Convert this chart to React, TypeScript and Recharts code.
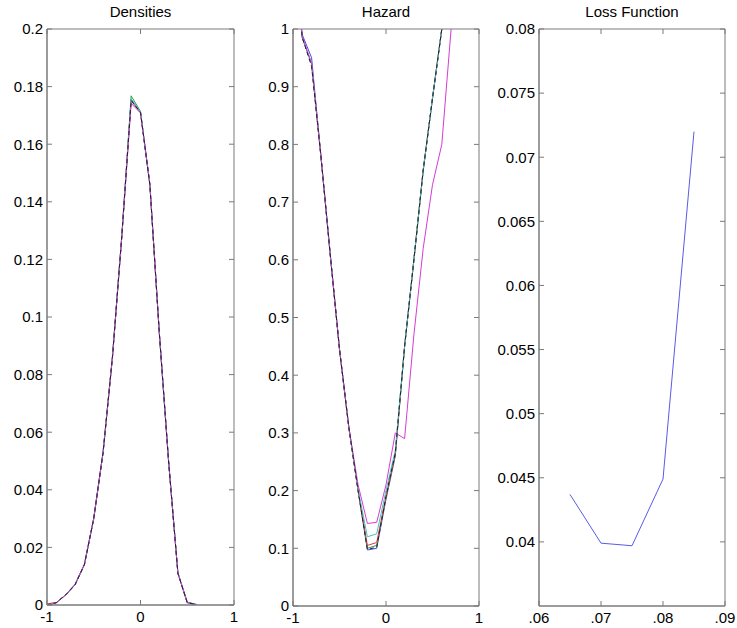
import { LineChart, Line, XAxis, YAxis } from 'recharts';

// Densities panel: kernel densities, one series per model (x grid -1 .. 0.6)
const densityX = [-1, -0.9, -0.8, -0.7, -0.6, -0.5, -0.4, -0.3, -0.2, -0.1, 0, 0.1, 0.2, 0.3, 0.4, 0.5, 0.6];
const densityBlue = [0, 0.0008, 0.0036, 0.0072, 0.0142, 0.0302, 0.0532, 0.0862, 0.1282, 0.1755, 0.1712, 0.1462, 0.0952, 0.0502, 0.0112, 0.001, 0.0002];
const densityGreen = [0, 0.0008, 0.0035, 0.007, 0.014, 0.03, 0.053, 0.086, 0.128, 0.1768, 0.1714, 0.146, 0.095, 0.05, 0.011, 0.0008, 0.0001];
const densityRed = [0.0004, 0.0009, 0.0035, 0.007, 0.014, 0.03, 0.053, 0.086, 0.128, 0.175, 0.171, 0.146, 0.095, 0.05, 0.011, 0.0008, 0.0001];
const densityCyan = [0, 0.0008, 0.0035, 0.007, 0.014, 0.03, 0.053, 0.086, 0.128, 0.1758, 0.1712, 0.146, 0.095, 0.05, 0.011, 0.0008, 0.0001];
const densityMagenta = [0, 0.0008, 0.0035, 0.0071, 0.0141, 0.0301, 0.0531, 0.0861, 0.1281, 0.1742, 0.1708, 0.1461, 0.0951, 0.0501, 0.0111, 0.0009, 0.0001];
const densityBlack = [0, 0.0008, 0.0035, 0.007, 0.014, 0.03, 0.053, 0.086, 0.128, 0.1752, 0.171, 0.146, 0.095, 0.05, 0.011, 0.0008, 0.0001];
const densityTicksY = [0, 0.02, 0.04, 0.06, 0.08, 0.1, 0.12, 0.14, 0.16, 0.18, 0.2];

// Hazard panel (x grid -1 .. 0.8, values above 1 are clipped by the axis)
const hazardX = [-1, -0.9, -0.8, -0.7, -0.6, -0.5, -0.4, -0.3, -0.2, -0.1, 0, 0.1, 0.2, 0.3, 0.4, 0.5, 0.6, 0.7, 0.8];
const hazardBlue = [1.14, 0.99, 0.95, 0.78, 0.61, 0.445, 0.31, 0.2, 0.097, 0.1, 0.185, 0.26, 0.45, 0.6, 0.755, 0.88, 1.0, 1.12, 1.25];
const hazardGreen = [1.14, 0.985, 0.94, 0.78, 0.61, 0.445, 0.31, 0.2, 0.1, 0.105, 0.188, 0.262, 0.45, 0.6, 0.755, 0.88, 1.0, 1.12, 1.25];
const hazardRed = [1.14, 0.985, 0.94, 0.78, 0.61, 0.445, 0.31, 0.2, 0.105, 0.11, 0.19, 0.265, 0.45, 0.6, 0.755, 0.88, 1.0, 1.12, 1.25];
const hazardCyan = [1.14, 0.985, 0.94, 0.78, 0.61, 0.445, 0.31, 0.202, 0.12, 0.125, 0.2, 0.27, 0.45, 0.6, 0.755, 0.88, 1.0, 1.12, 1.25];
const hazardMagenta = [1.14, 0.985, 0.94, 0.78, 0.61, 0.445, 0.31, 0.21, 0.143, 0.145, 0.21, 0.3, 0.29, 0.47, 0.62, 0.73, 0.8, 1.0, 1.2];
const hazardBlack = [1.14, 0.985, 0.935, 0.78, 0.61, 0.445, 0.31, 0.2, 0.098, 0.102, 0.19, 0.265, 0.45, 0.6, 0.755, 0.88, 1.0, 1.12, 1.25];
const hazardTicksY = [0, 0.1, 0.2, 0.3, 0.4, 0.5, 0.6, 0.7, 0.8, 0.9, 1];

// Loss function panel
const lossX = [0.065, 0.07, 0.075, 0.08, 0.085];
const lossY = [0.0437, 0.0399, 0.0397, 0.0449, 0.072];
const lossTicksX = [0.06, 0.07, 0.08, 0.09];
const lossTickLabels = ['.06', '.07', '.08', '.09'];
const lossTicksY = [0.04, 0.045, 0.05, 0.055, 0.06, 0.065, 0.07, 0.075, 0.08];

const unitTicksX = [-1, 0, 1];

const FONT = '"Liberation Sans", Arial, sans-serif';
const AXIS = '#7a7a7a';
const tickStyle = { fontSize: 15, fill: '#000', fontFamily: FONT };

const toPoints = (xs: number[], ys: number[]) => xs.map((x, i) => ({ x, y: ys[i] }));

const COLORS = {
  blue: '#4646ee',
  green: '#3c963c',
  red: '#e23c3c',
  cyan: '#3cc6c6',
  magenta: '#d43cd4',
  black: '#222222',
};

const NoLabel = () => <g />;

function Title({ text, left, width }: { text: string; left: number; width: number }) {
  return (
    <div
      style={{
        position: 'absolute',
        left,
        top: 3,
        width,
        textAlign: 'center',
        fontFamily: FONT,
        fontSize: 15,
        color: '#000',
      }}
    >
      {text}
    </div>
  );
}

function Ghost({ id, xId, yId, xs, ys }: { id: string; xId: string; yId: string; xs: number[]; ys: number[] }) {
  return (
    <Line
      key={id}
      xAxisId={xId}
      yAxisId={yId}
      data={toPoints(xs, ys)}
      dataKey="y"
      stroke="none"
      dot={false}
      activeDot={false}
      isAnimationActive={false}
    />
  );
}

// box axes: labels on left/bottom, inward tick marks on all four sides (mirrored axes)
function BoxAxes({
  xDomain,
  yDomain,
  xTicks,
  yTicks,
  yWidth,
  xHeight,
  xFormatter,
  xs,
  ys,
}: {
  xDomain: number[];
  yDomain: number[];
  xTicks: number[];
  yTicks: number[];
  yWidth: number;
  xHeight: number;
  xFormatter?: (v: number) => string;
  xs: number[];
  ys: number[];
}) {
  const common = { type: 'number' as const, dataKey: 'x', allowDataOverflow: true, interval: 0 as const };
  const commonY = { type: 'number' as const, dataKey: 'y', allowDataOverflow: true, interval: 0 as const };
  const tickLine = { stroke: AXIS };
  return [
    <XAxis
      key="xb"
      xAxisId="b"
      {...common}
      domain={xDomain}
      ticks={xTicks}
      stroke={AXIS}
      tick={tickStyle}
      tickLine={false}
      tickSize={0}
      tickMargin={6}
      height={xHeight}
      tickFormatter={xFormatter}
    />,
    <YAxis
      key="yl"
      yAxisId="l"
      {...commonY}
      domain={yDomain}
      ticks={yTicks}
      stroke={AXIS}
      tick={tickStyle}
      tickLine={false}
      tickSize={0}
      tickMargin={4}
      width={yWidth}
    />,
    <XAxis key="xbm" xAxisId="bm" {...common} domain={xDomain} ticks={xTicks} stroke={AXIS} mirror tick={NoLabel} tickLine={tickLine} tickSize={5} height={5} />,
    <XAxis key="xt" xAxisId="t" orientation="top" {...common} domain={xDomain} ticks={xTicks} stroke={AXIS} mirror tick={NoLabel} tickLine={tickLine} tickSize={5} height={5} />,
    <YAxis key="ylm" yAxisId="lm" {...commonY} domain={yDomain} ticks={yTicks} stroke={AXIS} mirror tick={NoLabel} tickLine={tickLine} tickSize={5} width={5} />,
    <YAxis key="yr" yAxisId="r" orientation="right" {...commonY} domain={yDomain} ticks={yTicks} stroke={AXIS} mirror tick={NoLabel} tickLine={tickLine} tickSize={5} width={5} />,
    Ghost({ id: 'g1', xId: 't', yId: 'r', xs, ys }),
    Ghost({ id: 'g2', xId: 'bm', yId: 'lm', xs, ys }),
  ];
}

function Series({ xs, ys, color, dashed }: { xs: number[]; ys: number[]; color: string; dashed?: boolean }) {
  return (
    <Line
      xAxisId="b"
      yAxisId="l"
      data={toPoints(xs, ys)}
      dataKey="y"
      stroke={color}
      strokeWidth={1}
      strokeDasharray={dashed ? '4 3' : undefined}
      dot={false}
      activeDot={false}
      isAnimationActive={false}
    />
  );
}

function DensitiesChart() {
  return (
    <div style={{ position: 'absolute', left: 0, top: 0 }}>
      <LineChart width={240} height={628} margin={{ top: 29, right: 6, bottom: 0, left: 0 }}>
        {BoxAxes({ xDomain: [-1, 1], yDomain: [0, 0.2], xTicks: unitTicksX, yTicks: densityTicksY, yWidth: 47, xHeight: 23, xs: densityX, ys: densityBlack })}
        {Series({ xs: densityX, ys: densityBlue, color: COLORS.blue })}
        {Series({ xs: densityX, ys: densityGreen, color: COLORS.green })}
        {Series({ xs: densityX, ys: densityRed, color: COLORS.red })}
        {Series({ xs: densityX, ys: densityCyan, color: COLORS.cyan })}
        {Series({ xs: densityX, ys: densityMagenta, color: COLORS.magenta })}
        {Series({ xs: densityX, ys: densityBlack, color: COLORS.black, dashed: true })}
      </LineChart>
    </div>
  );
}

function HazardChart() {
  return (
    <div style={{ position: 'absolute', left: 246, top: 0 }}>
      <LineChart width={240} height={628} margin={{ top: 29, right: 7, bottom: 0, left: 0 }}>
        {BoxAxes({ xDomain: [-1, 1], yDomain: [0, 1], xTicks: unitTicksX, yTicks: hazardTicksY, yWidth: 47, xHeight: 22, xs: hazardX, ys: hazardBlack })}
        {Series({ xs: hazardX, ys: hazardBlue, color: COLORS.blue })}
        {Series({ xs: hazardX, ys: hazardGreen, color: COLORS.green })}
        {Series({ xs: hazardX, ys: hazardRed, color: COLORS.red })}
        {Series({ xs: hazardX, ys: hazardCyan, color: COLORS.cyan })}
        {Series({ xs: hazardX, ys: hazardMagenta, color: COLORS.magenta })}
        {Series({ xs: hazardX, ys: hazardBlack, color: COLORS.black, dashed: true })}
      </LineChart>
    </div>
  );
}

function LossChart() {
  const fmt = (v: number) => lossTickLabels[lossTicksX.indexOf(v)] ?? String(v);
  return (
    <div style={{ position: 'absolute', left: 486, top: 0 }}>
      <LineChart width={251} height={628} margin={{ top: 29, right: 12, bottom: 0, left: 0 }}>
        {BoxAxes({
          xDomain: [0.06, 0.09],
          yDomain: [0.035, 0.08],
          xTicks: lossTicksX,
          yTicks: lossTicksY,
          yWidth: 53,
          xHeight: 22,
          xFormatter: fmt,
          xs: lossX,
          ys: lossY,
        })}
        {Series({ xs: lossX, ys: lossY, color: '#5a5ae8' })}
      </LineChart>
    </div>
  );
}

export default function App() {
  return (
    <div
      style={{
        position: 'absolute',
        left: 0,
        top: 0,
        width: 737,
        height: 628,
        background: '#fff',
        overflow: 'hidden',
      }}
    >
      <DensitiesChart />
      <HazardChart />
      <LossChart />
      <Title text="Densities" left={47} width={187} />
      <Title text="Hazard" left={293} width={186} />
      <Title text="Loss Function" left={539} width={186} />
    </div>
  );
}
